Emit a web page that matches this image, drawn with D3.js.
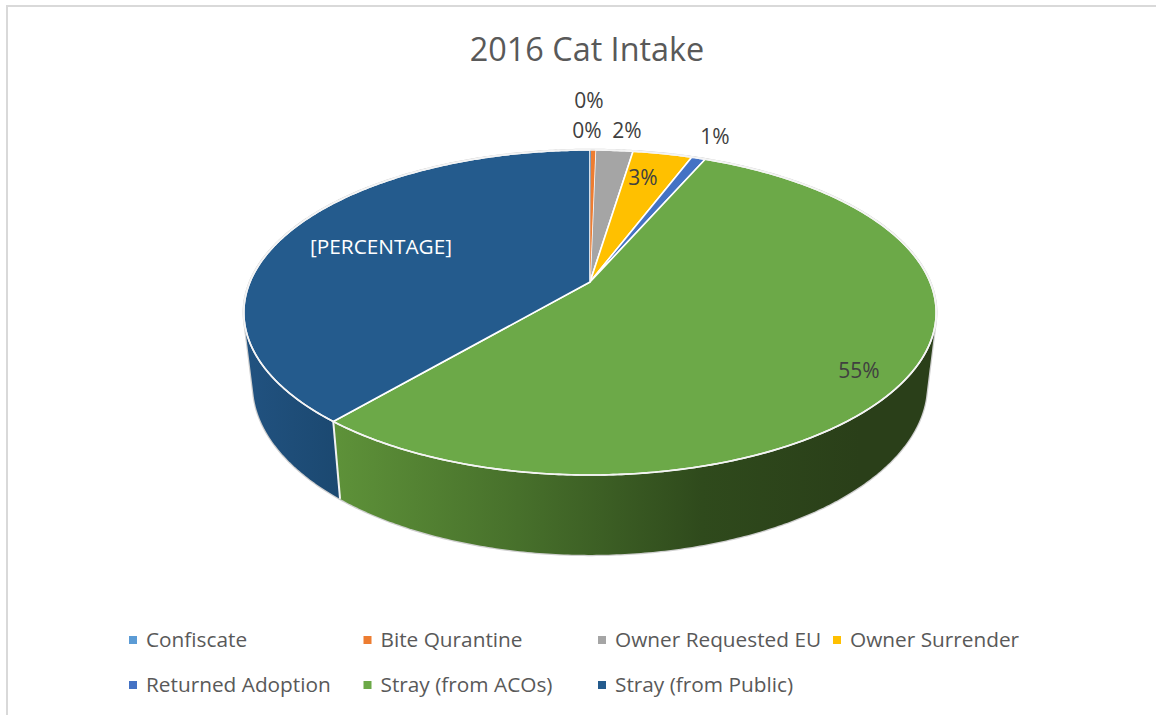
<!DOCTYPE html>
<html><head><meta charset="utf-8">
<script src="https://cdn.jsdelivr.net/npm/d3@7"></script>
<style>html,body{margin:0;padding:0;background:#fff}svg{display:block}text{font-family:"Open Sans",sans-serif}</style>
</head><body><svg id="c" width="1156" height="715"></svg>
<script>
const title = "2016 Cat Intake";
const categories = ["Confiscate","Bite Qurantine","Owner Requested EU","Owner Surrender","Returned Adoption","Stray (from ACOs)","Stray (from Public)"];
const shares = [0.05,0.25,2.1,3.32,0.78,54.7,38.8];
const labels = ["0%","0%","2%","3%","1%","55%","[PERCENTAGE]"];
const colors = ["#5B9BD5","#ED7D31","#A5A5A5","#FFC000","#4472C4","#6CA948","#245B8D"];
const labelColors = ["#404040","#404040","#404040","#404040","#404040","#404040","#ffffff"];

// layout
const W=1156,H=715;
const labelXY=[[589,101],[587,131],[627,131],[643,178],[715,137],[859,371],[381,247]];
const legendCols=[129,363.5,598,833], legendRows=[640,685];
const k=0.1877;
const topDisc={cx:590,cy:282,A:340,B:156.8};
const botDisc={cx:590,cy:353,A:331,B:164};
const wallStops={5:[["0%","#5E9239"],["35%","#47702B"],["70%","#2F4A1C"],["100%","#2A3F19"]],
                 6:[["0%","#215280"],["100%","#1B4870"]]};

const svg=d3.select("#c");
const defs=svg.append("defs");
const xU=d3.scaleLinear().domain([-1,1]);
function proj(d,a){ // a: clockwise from top
  const u=Math.sin(a),v=-Math.cos(a),w=1-k*v;
  xU.range([d.cx-d.A/w,d.cx+d.A/w]);
  return [xU(u),d.cy+d.B*v/w];
}
const pie=d3.pie().sort(null).value(d=>d)(shares);
const arcPts=(d,a0,a1)=>{
  const n=Math.max(2,Math.ceil((a1-a0)/0.01));
  return d3.range(n+1).map(i=>proj(d,a0+(a1-a0)*i/n));
};
const line=d3.line();
const closed=p=>line(p)+"Z";

// frame
svg.append("line").attr("x1",6).attr("x2",W).attr("y1",6).attr("y2",6).attr("stroke","#D9D9D9").attr("stroke-width",2);
svg.append("line").attr("x1",7).attr("x2",7).attr("y1",5).attr("y2",H).attr("stroke","#D9D9D9").attr("stroke-width",2);

// title
svg.append("text").attr("x",587).attr("y",61).attr("text-anchor","middle").attr("font-size",32.4).attr("fill","#595959").text(title);

// overall outline
const allPts=arcPts(topDisc,0,2*Math.PI).concat(arcPts(botDisc,0,2*Math.PI));
svg.append("path").attr("d",closed(d3.polygonHull(allPts))).attr("fill","#fff").attr("stroke","#CFCFCF").attr("stroke-width",2.5);

// side walls (blue first so the green wall sits over its hidden chord)
[6,5].forEach(i=>{
  const s=pie[i];
  const g=defs.append("linearGradient").attr("id","wall"+i).attr("gradientUnits","userSpaceOnUse")
    .attr("x1",i==5?334:245).attr("x2",i==5?860:340).attr("y1",0).attr("y2",0);
  wallStops[i].forEach(t=>g.append("stop").attr("offset",t[0]).attr("stop-color",t[1]));
  const pts=arcPts(topDisc,s.startAngle,s.endAngle).concat(arcPts(botDisc,s.startAngle,s.endAngle));
  svg.append("path").attr("d",closed(d3.polygonHull(pts))).attr("fill",`url(#wall${i})`);
});
// wall seam
const seam=pie[5].endAngle;
svg.append("path").attr("d",line([proj(topDisc,seam),proj(botDisc,seam)])).attr("stroke","#F2F2F2").attr("stroke-width",2).attr("fill","none");

// top face
pie.forEach((s,i)=>{
  const pts=[[topDisc.cx,topDisc.cy]].concat(arcPts(topDisc,s.startAngle,s.endAngle));
  svg.append("path").attr("d",closed(pts)).attr("fill",colors[i])
    .attr("stroke",i==0||i==1?"none":"#fff").attr("stroke-width",1.6).attr("stroke-linejoin","round");
});
// thin slices on top of neighbours' strokes
pie.slice(0,2).forEach((s,i)=>{
  const pts=[[topDisc.cx,topDisc.cy]].concat(arcPts(topDisc,s.startAngle,s.endAngle));
  svg.append("path").attr("d",closed(pts)).attr("fill",colors[i]);
});
svg.append("path").attr("d",closed(arcPts(topDisc,0,2*Math.PI))).attr("fill","none").attr("stroke","#F4F4F4").attr("stroke-width",1.6);

// data labels
labels.forEach((t,i)=>{
  svg.append("text").attr("x",labelXY[i][0]).attr("y",labelXY[i][1]).attr("dy","0.35em")
    .attr("text-anchor","middle").attr("font-size",i==6?20.8:21).attr("fill",labelColors[i]).text(t);
});

// legend
categories.forEach((c,i)=>{
  const x=legendCols[i%4], y=legendRows[Math.floor(i/4)];
  svg.append("rect").attr("x",x).attr("y",y-4).attr("width",8).attr("height",8).attr("fill",colors[i]);
  svg.append("text").attr("x",x+17).attr("y",y).attr("dy","0.35em").attr("font-size",20.8).attr("fill","#595959").text(c);
});
</script></body></html>
